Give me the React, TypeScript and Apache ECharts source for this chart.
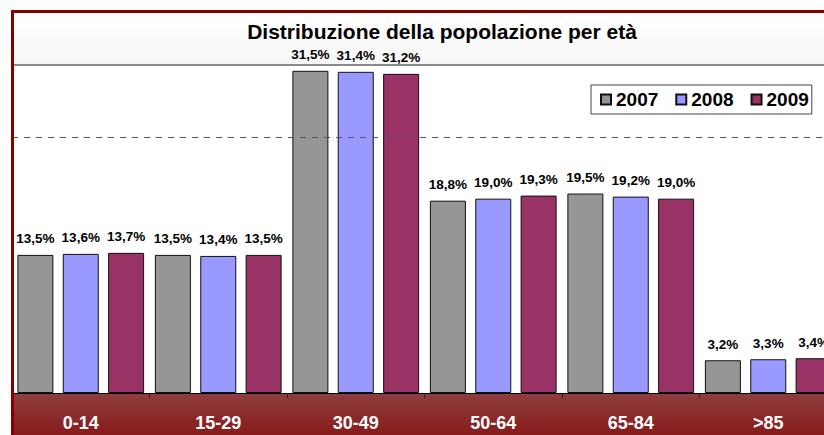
import React, { useEffect, useRef } from "react";
import * as echarts from "echarts";

const categories = ["0-14", "15-29", "30-49", "50-64", "65-84", ">85"];
const years = ["2007", "2008", "2009"];
const values2007 = [13.5, 13.5, 31.5, 18.8, 19.5, 3.2];
const values2008 = [13.6, 13.4, 31.4, 19.0, 19.2, 3.3];
const values2009 = [13.7, 13.5, 31.2, 19.3, 19.0, 3.4];
const colors = ["#969696", "#9999FF", "#993366"];
const titleText = "Distribuzione della popolazione per età";

const FONT = "'Liberation Sans', Arial, sans-serif";

export default function App() {
  const ref = useRef<HTMLDivElement>(null);

  useEffect(() => {
    if (!ref.current) return;
    const chart = echarts.init(ref.current, undefined, { renderer: "svg" });
    const seriesData = [values2007, values2008, values2009];
    const fmt = (p: any) => Number(p.value).toFixed(1).replace(".", ",") + "%";

    chart.setOption({
      animation: false,
      backgroundColor: "#ffffff",
      textStyle: { fontFamily: FONT },
      title: {
        text: titleText,
        left: 437,
        top: 16,
        textAlign: "center",
        textStyle: { fontFamily: FONT, fontSize: 21, fontWeight: "bold", color: "#000" },
        z: 20,
      },
      legend: {
        data: years,
        left: 591,
        top: 85,
        orient: "horizontal",
        icon: "rect",
        itemWidth: 10,
        itemHeight: 10,
        itemGap: 17,
        padding: [5, 3, 5, 9],
        backgroundColor: "#ffffff",
        borderColor: "#444",
        borderWidth: 1,
        borderRadius: 0,
        textStyle: { fontFamily: FONT, fontSize: 19, fontWeight: "bold", color: "#000" },
      },
      grid: { left: 12, top: 35, width: 825, height: 358, containLabel: false },
      xAxis: {
        type: "category",
        data: categories,
        z: 10,
        axisLine: { show: true, lineStyle: { color: "#000", width: 1 } },
        axisTick: { show: true, length: 5, lineStyle: { color: "#222" } },
        axisLabel: {
          color: "#fff",
          fontFamily: FONT,
          fontSize: 18,
          fontWeight: "bold",
          margin: 21,
        },
      },
      yAxis: {
        type: "value",
        min: 0,
        max: 35,
        show: false,
        splitLine: { show: false },
      },
      graphic: [
        {
          type: "rect",
          z: 0,
          shape: { x: 11, y: 13, width: 840, height: 52 },
          style: {
            fill: new echarts.graphic.LinearGradient(0, 0, 0, 1, [
              { offset: 0, color: "#ffffff" },
              { offset: 1, color: "#f7f7f7" },
            ]),
          },
        },
        {
          type: "rect",
          z: 0,
          shape: { x: 11, y: 64, width: 840, height: 2 },
          style: { fill: "#8a8a8a" },
        },
        {
          type: "rect",
          z: 0,
          shape: { x: 11, y: 393, width: 840, height: 50 },
          style: {
            fill: new echarts.graphic.LinearGradient(0, 0, 0, 1, [
              { offset: 0, color: "#8e3e3e" },
              { offset: 1, color: "#861414" },
            ]),
          },
        },
        {
          type: "rect",
          z: 100,
          shape: { x: 11, y: 10, width: 840, height: 3 },
          style: { fill: "#870000" },
        },
        {
          type: "rect",
          z: 100,
          shape: { x: 11, y: 10, width: 3, height: 430 },
          style: { fill: "#870000" },
        },
      ],
      series: years.map((y, i) => ({
        name: y,
        type: "bar",
        data: seriesData[i],
        barWidth: 36,
        barGap: "26%",
        itemStyle: { color: colors[i], borderColor: "#111", borderWidth: 1 },
        label: {
          show: true,
          position: "top",
          distance: 9,
          formatter: fmt,
          fontFamily: FONT,
          fontSize: 13.5,
          fontWeight: "bold",
          color: "#000",
        },
        markLine:
          i === 0
            ? {
                silent: true,
                symbol: "none",
                label: { show: false },
                lineStyle: { color: "#555", type: [6, 6], width: 1.2 },
                data: [{ yAxis: 25 }],
              }
            : undefined,
        z: 2,
      })),
    });

    return () => chart.dispose();
  }, []);

  return (
    <div style={{ position: "absolute", left: 0, top: 0, width: 824, height: 435, overflow: "hidden" }}>
      <div ref={ref} style={{ width: 842, height: 435 }} />
    </div>
  );
}
